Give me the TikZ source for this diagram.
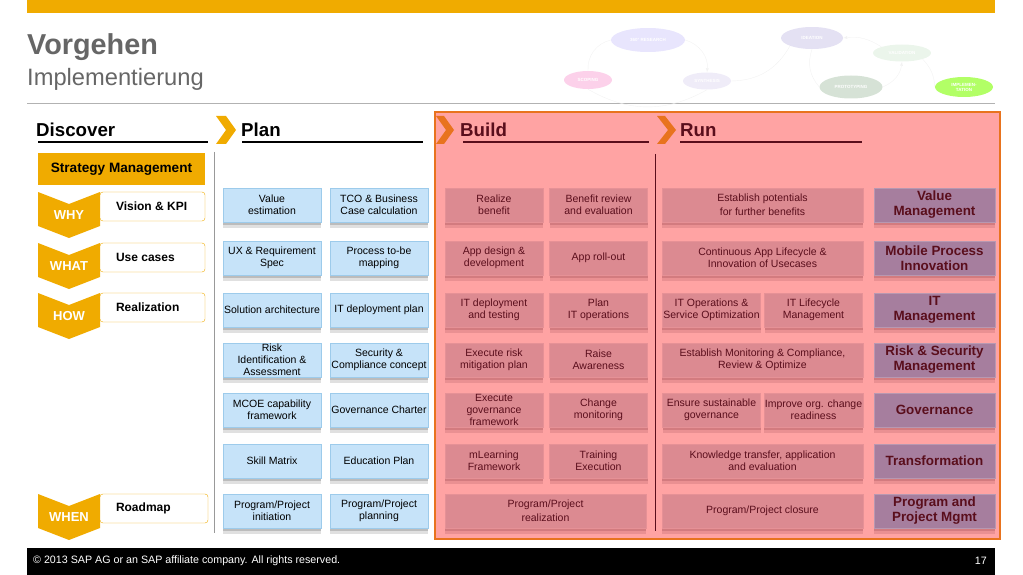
\documentclass[tikz,border=0pt]{standalone}
\usepackage{fontspec}
\setmainfont{Liberation Sans}
\usetikzlibrary{shapes.geometric}
\definecolor{sapgold}{HTML}{F0AB00}
\definecolor{sapgray}{HTML}{666666}
\definecolor{runorange}{HTML}{E8731E}
\definecolor{runfill}{HTML}{FFA3A3}
\definecolor{maroon}{HTML}{5A0E1C}
\definecolor{planfill}{HTML}{C6E3F9}
\definecolor{planedge}{HTML}{9DCBEB}
\definecolor{buildfill}{HTML}{DC8A91}
\definecolor{mgmtfill}{HTML}{A67E9E}
\tikzset{>=latex}
\tikzset{
  shade below/.style={
    preaction={fill=#1, opacity=0.16, transform canvas={yshift=-3pt}},
    preaction={fill=#1, opacity=0.12, transform canvas={yshift=-6pt}}},
  cell/.style={minimum width=98pt, minimum height=34pt, inner sep=1pt, align=center,
    font=\fontsize{10.5}{12}\selectfont},
  planbox/.style={cell, draw=planedge, fill=planfill, shade below=black},
  buildbox/.style={cell, draw=buildfill!70!runfill, fill=buildfill, text=maroon, shade below=maroon},
  wide/.style={minimum width=201pt},
  mgmtbox/.style={cell, minimum width=121pt, draw=mgmtfill!80!white, fill=mgmtfill, text=maroon,
    font=\bfseries\fontsize{13.4}{15}\selectfont, shade below=maroon},
  askbox/.style={draw=sapgold, fill=white, rounded corners=3pt, minimum width=105pt,
    minimum height=29pt, inner sep=0pt, font=\bfseries\fontsize{12}{14}\selectfont},
  asktag/.style={text=white, inner sep=0pt, font=\bfseries\fontsize{13}{14}\selectfont},
  phase/.style={anchor=base west, inner sep=0pt, font=\bfseries\fontsize{18.7}{20}\selectfont},
  bubble/.style={ellipse, inner sep=0pt, text=white, align=center,
    font=\bfseries\fontsize{4.5}{5}\selectfont},
  faint/.style={draw=black!5, thin}
}
\newcommand{\asktext}[1]{\makebox[73pt][l]{#1}}

\begin{document}
\begin{tikzpicture}[x=1pt,y=-1pt]
  \useasboundingbox (0,0) rectangle (1023,575);
  \fill[sapgold] (27,0) rectangle (995,13);
  \node[anchor=base west, inner sep=0pt, text=sapgray, font=\bfseries\fontsize{28.8}{30}\selectfont]
    (title) at (27,55) {Vorgehen};
  \node[anchor=base west, inner sep=0pt, text=sapgray, font=\fontsize{23.7}{26}\selectfont]
    (subtitle) at (27,86) {Implementierung};
  \draw[black!30] (27,103) -- (995,103);

  \node[bubble, fill=red!8!blue!10, minimum width=74pt, minimum height=24pt] (research) at (648,40) {360° RESEARCH};
  \node[bubble, fill=magenta!18, minimum width=48pt, minimum height=18pt] (scoping) at (588,80) {SCOPING};
  \node[bubble, fill=cyan!8!blue!6, minimum width=48pt, minimum height=17pt] (synthesis) at (707,81) {SYNTHESIS};
  \node[bubble, fill=cyan!8!blue!10, minimum width=62pt, minimum height=22pt] (ideation) at (812,38) {IDEATION};
  \node[bubble, fill=green!50!black!8, minimum width=58pt, minimum height=17pt] (validation) at (902,53) {VALIDATION};
  \node[bubble, fill=green!30!black!16, minimum width=63pt, minimum height=23pt] (prototyping) at (851,87) {PROTOTYPING};
  \node[bubble, fill=green!50!yellow!60, minimum width=58pt, minimum height=20pt] (implementation) at (964,87) {IMPLEMEN-\\TATION};
  \draw[faint] (scoping.north) to[bend left=40] (research.west);
  \draw[faint,->] (research.east) to[bend left=40] (synthesis.north);
  \draw[faint] (synthesis.south) to[bend left=30] (scoping.south);
  \draw[faint] (synthesis.east) to[bend right=30] (ideation.south west);
  \draw[faint] (ideation.south) to[bend right=30] (prototyping.west);
  \draw[faint,->] (prototyping.east) to[bend right=30] (validation.south);
  \draw[faint,->] (validation.north west) to[bend right=20] (ideation.east);
  \draw[faint] (validation.south east) to[bend left=20] (implementation.west);

  \draw[runorange, line width=2pt, fill=runfill] (435,112) rectangle (1000,539);

  \node[phase] (discover) at (36,137) {Discover};
  \node[phase] (plan) at (241,137) {Plan};
  \node[phase, text=maroon] (build) at (460,137) {Build};
  \node[phase, text=maroon] (run) at (680,137) {Run};
  \draw[line width=1.5pt] (38,142) -- (208,142);
  \draw[line width=1.5pt] (242,142) -- (423,142);
  \draw[line width=1.5pt, maroon] (463,142) -- (649,142);
  \draw[line width=1.5pt, maroon] (680,142) -- (862,142);
  \fill[sapgold] (216,116) -- (226,116) -- (236,130) -- (226,144) -- (216,144) -- (226,130) -- cycle;
  \fill[runorange] (436,116) -- (444,116) -- (454,130) -- (444,144) -- (436,144) -- (446,130) -- cycle;
  \fill[runorange] (657,116) -- (665,116) -- (676,130) -- (665,144) -- (657,144) -- (668,130) -- cycle;
  \draw[black!40] (214,152) -- (214,533);
  \draw[maroon] (655,154) -- (655,531);

  \node[fill=sapgold, minimum width=167pt, minimum height=32pt, inner sep=0pt,
    font=\bfseries\fontsize{13.6}{15}\selectfont] (strategy) at (121.5,169) {Strategy Management};
  \fill[sapgold] (38,192) -- (69,204) -- (100,192) -- (100,226) -- (69,238) -- (38,226) -- cycle;
  \fill[sapgold] (38,243) -- (69,255) -- (100,243) -- (100,277) -- (69,289) -- (38,277) -- cycle;
  \fill[sapgold] (38,293) -- (69,305) -- (100,293) -- (100,327) -- (69,339) -- (38,327) -- cycle;
  \fill[sapgold] (38,494) -- (69,506) -- (100,494) -- (100,528) -- (69,540) -- (38,528) -- cycle;
  \node[asktag] (why) at (69,215) {WHY};
  \node[asktag] (what) at (69,266) {WHAT};
  \node[asktag] (how) at (69,316) {HOW};
  \node[asktag] (when) at (69,517) {WHEN};
  \node[askbox] (vision) at (152.5,206.5) {\asktext{Vision \& KPI}};
  \node[askbox] (usecases) at (152.5,257.5) {\asktext{Use cases}};
  \node[askbox] (realization) at (152.5,307.5) {\asktext{Realization}};
  \node[askbox, minimum width=108pt] (roadmap) at (154,508.5) {\makebox[76pt][l]{Roadmap}};

  \node[planbox] (value) at (272,205) {Value\\estimation};
  \node[planbox] (tco) at (379,205) {TCO \& Business\\Case calculation};
  \node[planbox] (ux) at (272,258) {UX \& Requirement\\Spec};
  \node[planbox] (process) at (379,258) {Process to-be\\mapping};
  \node[planbox] (solution) at (272,310) {Solution architecture};
  \node[planbox] (deployplan) at (379,310) {IT deployment plan};
  \node[planbox] (riskid) at (272,360) {Risk\\Identification \&\\Assessment};
  \node[planbox] (security) at (379,360) {Security \&\\Compliance concept};
  \node[planbox] (mcoe) at (272,410) {MCOE capability\\framework};
  \node[planbox] (charter) at (379,410) {Governance Charter};
  \node[planbox] (skill) at (272,461) {Skill Matrix};
  \node[planbox] (education) at (379,461) {Education Plan};
  \node[planbox] (initiation) at (272,511) {Program/Project\\initiation};
  \node[planbox] (planning) at (379,511) {Program/Project\\planning};

  \node[buildbox] (realize) at (494,205) {Realize\\benefit};
  \node[buildbox] (review) at (598.5,205) {Benefit review\\and evaluation};
  \node[buildbox] (appdesign) at (494,258) {App design \&\\development};
  \node[buildbox] (rollout) at (598.5,258) {App roll-out};
  \node[buildbox] (testing) at (494,310) {IT deployment\\and testing};
  \node[buildbox] (planops) at (598.5,310) {Plan\\IT operations};
  \node[buildbox] (mitigation) at (494,360) {Execute risk\\mitigation plan};
  \node[buildbox] (awareness) at (598.5,360) {Raise\\Awareness};
  \node[buildbox] (govexec) at (494,410) {Execute\\governance\\framework};
  \node[buildbox] (monitoring) at (598.5,410) {Change\\monitoring};
  \node[buildbox] (mlearning) at (494,461) {mLearning\\Framework};
  \node[buildbox] (training) at (598.5,461) {Training\\Execution};
  \node[buildbox, wide] (realizationbox) at (545.5,511) {Program/Project\\[2pt]realization};

  \node[buildbox, wide] (potentials) at (762.5,205) {Establish potentials\\[2pt]for further benefits};
  \node[buildbox, wide] (lifecycle) at (762.5,258) {Continuous App Lifecycle \&\\Innovation of Usecases};
  \node[buildbox] (itops) at (711.5,310) {IT Operations \&\\Service Optimization};
  \node[buildbox] (itlife) at (813.5,310) {IT Lifecycle\\Management};
  \node[buildbox, wide] (compliance) at (762.5,360) {Establish Monitoring \& Compliance,\\Review \& Optimize};
  \node[buildbox] (sustain) at (711.5,410) {Ensure sustainable\\governance};
  \node[buildbox] (readiness) at (813.5,410) {Improve org. change\\readiness};
  \node[buildbox, wide] (knowledge) at (762.5,461) {Knowledge transfer, application\\and evaluation};
  \node[buildbox, wide] (closure) at (762.5,511) {Program/Project closure};

  \node[mgmtbox] (valuemgmt) at (934.5,205) {Value\\Management};
  \node[mgmtbox] (mobile) at (934.5,258) {Mobile Process\\Innovation};
  \node[mgmtbox] (itmgmt) at (934.5,310) {IT\\Management};
  \node[mgmtbox] (riskmgmt) at (934.5,360) {Risk \& Security\\Management};
  \node[mgmtbox] (governance) at (934.5,410) {Governance};
  \node[mgmtbox] (transformation) at (934.5,461) {Transformation};
  \node[mgmtbox] (progmgmt) at (934.5,511) {Program and\\Project Mgmt};

  \fill[black] (27,548) rectangle (995,575);
  \node[anchor=west, inner sep=0pt, text=white, font=\fontsize{10.7}{12}\selectfont]
    (copyright) at (33,561) {© 2013 SAP AG or an SAP affiliate company. All rights reserved.};
  \node[anchor=east, inner sep=0pt, text=white, font=\fontsize{10.7}{12}\selectfont]
    (pageno) at (987,561) {17};
\end{tikzpicture}
\end{document}
